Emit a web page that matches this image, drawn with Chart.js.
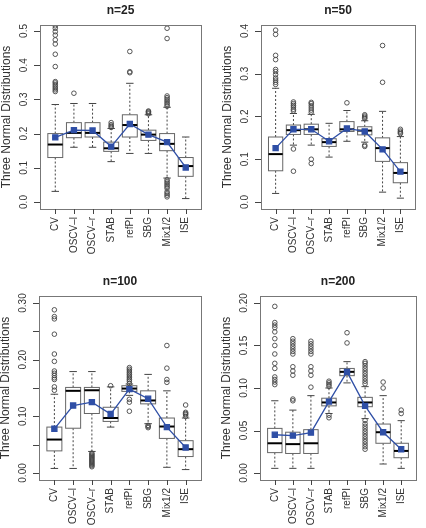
<!doctype html>
<html lang="en">
<head>
<meta charset="utf-8">
<title>Three Normal Distributions</title>
<script src="https://cdn.jsdelivr.net/npm/chart.js@4.4.1/dist/chart.umd.min.js"></script>
<style>
  body { margin: 0; background: #fff; }
  .grid { position: relative; width: 426px; height: 528px; background: #fff; }
  .grid canvas { position: absolute; }
</style>
</head>
<body>
<div class="grid">
  <canvas id="c25" width="213" height="264" style="left:0;top:0"></canvas>
  <canvas id="c50" width="213" height="264" style="left:213px;top:0"></canvas>
  <canvas id="c100" width="213" height="264" style="left:0;top:264px"></canvas>
  <canvas id="c200" width="213" height="264" style="left:213px;top:264px"></canvas>
</div>
<script>
    // categories shared by the four panels
    const categories = ['CV', 'OSCV\u2013l', 'OSCV\u2013r', 'STAB', 'refPI', 'SBG', 'Mix1/2', 'ISE'];
    const yTitle = 'Three Normal Distributions';

    // n=25
    const lo25   = [0.031, 0.160, 0.160, 0.118, 0.142, 0.142, 0.070, 0.010];
    const q1_25  = [0.130, 0.188, 0.190, 0.148, 0.190, 0.180, 0.150, 0.075];
    const med25  = [0.168, 0.202, 0.202, 0.157, 0.225, 0.197, 0.170, 0.105];
    const q3_25  = [0.200, 0.232, 0.232, 0.175, 0.255, 0.210, 0.200, 0.130];
    const hi25   = [0.285, 0.288, 0.288, 0.215, 0.347, 0.255, 0.277, 0.190];
    const mean25 = [0.189, 0.210, 0.209, 0.162, 0.228, 0.197, 0.175, 0.101];
    const out25 = [
        [0.323, 0.328, 0.333, 0.338, 0.343, 0.348, 0.352, 0.396, 0.432, 0.462, 0.474, 0.488, 0.498, 0.508, 0.515],
        [0.318],
        [],
        [0.218, 0.222, 0.226, 0.232],
        [0.378, 0.381, 0.440],
        [0.258, 0.261, 0.264, 0.266],
        [0.015, 0.020, 0.025, 0.030, 0.040, 0.045, 0.050, 0.055, 0.060, 0.065,
         0.280, 0.285, 0.290, 0.295, 0.300, 0.305, 0.310, 0.478, 0.508],
        []
    ];
    const ticks25 = [0, 0.1, 0.2, 0.3, 0.4, 0.5];
    const tickLabels25 = ['0.0', '0.1', '0.2', '0.3', '0.4', '0.5'];

    // n=50
    const lo50   = [0.020, 0.133, 0.133, 0.105, 0.142, 0.140, 0.023, 0.009];
    const q1_50  = [0.073, 0.158, 0.158, 0.130, 0.165, 0.157, 0.095, 0.045];
    const med50  = [0.112, 0.168, 0.170, 0.140, 0.170, 0.167, 0.126, 0.068];
    const q3_50  = [0.152, 0.180, 0.182, 0.148, 0.188, 0.176, 0.150, 0.092];
    const hi50   = [0.266, 0.207, 0.205, 0.184, 0.214, 0.190, 0.212, 0.153];
    const mean50 = [0.126, 0.170, 0.170, 0.142, 0.172, 0.165, 0.123, 0.071];
    const out50 = [
        [0.275, 0.280, 0.285, 0.290, 0.298, 0.305, 0.310, 0.333, 0.343, 0.392, 0.402],
        [0.072, 0.124, 0.213, 0.217, 0.222, 0.226, 0.230, 0.234],
        [0.090, 0.100, 0.210, 0.215, 0.220, 0.225, 0.230, 0.233],
        [],
        [0.232],
        [0.130, 0.133, 0.195, 0.198, 0.201, 0.204],
        [0.280, 0.366],
        [0.160, 0.163, 0.166, 0.170]
    ];
    const ticks50 = [0, 0.1, 0.2, 0.3, 0.4];
    const tickLabels50 = ['0.0', '0.1', '0.2', '0.3', '0.4'];

    // n=100
    const lo100   = [0.008, 0.008, 0.038, 0.081, 0.137, 0.087, 0.010, 0.006];
    const q1_100  = [0.039, 0.079, 0.105, 0.091, 0.144, 0.122, 0.061, 0.029];
    const med100  = [0.059, 0.145, 0.146, 0.097, 0.149, 0.128, 0.082, 0.042];
    const q3_100  = [0.081, 0.151, 0.151, 0.116, 0.154, 0.145, 0.097, 0.057];
    const hi100   = [0.139, 0.179, 0.179, 0.152, 0.157, 0.174, 0.145, 0.097];
    const mean100 = [0.078, 0.119, 0.125, 0.104, 0.148, 0.131, 0.081, 0.045];
    const out100 = [
        [0.146, 0.152, 0.165, 0.168, 0.172, 0.176, 0.180, 0.197, 0.210, 0.245, 0.272, 0.276, 0.288],
        [],
        [0.011, 0.013, 0.015, 0.017, 0.019, 0.021, 0.023, 0.025, 0.027, 0.029, 0.031, 0.033, 0.035],
        [0.154],
        [0.109, 0.125, 0.130, 0.158, 0.162, 0.165, 0.168, 0.171, 0.174, 0.177, 0.180, 0.183, 0.186],
        [0.080, 0.082, 0.084],
        [0.160, 0.165, 0.185, 0.225],
        [0.100, 0.103, 0.105, 0.107, 0.120]
    ];
    const ticks100 = [0, 0.05, 0.1, 0.15, 0.2, 0.25, 0.3];
    const tickLabels100 = ['0.00', '', '0.10', '', '0.20', '', '0.30'];

    // n=200
    const lo200   = [0.0055, 0.0055, 0.0055, 0.070, 0.106, 0.064, 0.0106, 0.0055];
    const q1_200  = [0.024, 0.023, 0.023, 0.079, 0.1145, 0.078, 0.035, 0.018];
    const med200  = [0.035, 0.034, 0.035, 0.083, 0.119, 0.083, 0.048, 0.026];
    const q3_200  = [0.0525, 0.048, 0.051, 0.088, 0.123, 0.089, 0.0576, 0.035];
    const hi200   = [0.085, 0.074, 0.091, 0.100, 0.131, 0.1016, 0.091, 0.0616];
    const mean200 = [0.045, 0.044, 0.0475, 0.084, 0.119, 0.079, 0.048, 0.028];
    const out200 = [
        [0.104, 0.107, 0.110, 0.113, 0.123, 0.129, 0.140, 0.150, 0.158, 0.166, 0.171, 0.174, 0.177, 0.196],
        [0.085, 0.087, 0.115, 0.120, 0.125, 0.140, 0.143, 0.146, 0.149, 0.152, 0.155, 0.158],
        [0.101, 0.115, 0.120, 0.125, 0.140, 0.143, 0.146, 0.149, 0.152, 0.155],
        [0.065, 0.068, 0.102, 0.104, 0.106, 0.108],
        [0.153, 0.165],
        [0.028, 0.031, 0.034, 0.037, 0.040, 0.043, 0.046, 0.049, 0.052, 0.055, 0.058, 0.062,
         0.105, 0.108, 0.111, 0.114, 0.117, 0.120, 0.123, 0.126, 0.129, 0.131],
        [0.100, 0.107],
        [0.070, 0.074]
    ];
    const ticks200 = [0, 0.05, 0.1, 0.15, 0.2];
    const tickLabels200 = ['0.00', '0.05', '0.10', '0.15', '0.20'];

    const meanColor = '#2f4fa6';
    const boxColor = '#666';
    const textColor = '#333';
    const font = '"Liberation Sans", Arial, sans-serif';

    function makeBoxPlugin(panel) {
        return {
            id: 'boxes',
            beforeDatasetsDraw(chart) {
                const ctx = chart.ctx;
                const xs = chart.scales.x, ys = chart.scales.y;
                const unit = xs.getPixelForValue(2) - xs.getPixelForValue(1);
                const halfBox = unit * 0.4;
                const halfCap = unit * 0.2;
                ctx.save();
                for (let i = 0; i < categories.length; i++) {
                    const cx = xs.getPixelForValue(i + 1);
                    const yLo = ys.getPixelForValue(panel.lo[i]);
                    const yQ1 = ys.getPixelForValue(panel.q1[i]);
                    const yMed = ys.getPixelForValue(panel.med[i]);
                    const yQ3 = ys.getPixelForValue(panel.q3[i]);
                    const yHi = ys.getPixelForValue(panel.hi[i]);
                    // whiskers
                    ctx.strokeStyle = '#444';
                    ctx.lineWidth = 1;
                    ctx.setLineDash([2, 2]);
                    ctx.beginPath();
                    ctx.moveTo(cx, yQ1); ctx.lineTo(cx, yLo);
                    ctx.moveTo(cx, yQ3); ctx.lineTo(cx, yHi);
                    ctx.stroke();
                    ctx.setLineDash([]);
                    ctx.beginPath();
                    ctx.moveTo(cx - halfCap, yLo); ctx.lineTo(cx + halfCap, yLo);
                    ctx.moveTo(cx - halfCap, yHi); ctx.lineTo(cx + halfCap, yHi);
                    ctx.stroke();
                    // box
                    ctx.fillStyle = '#fff';
                    ctx.fillRect(cx - halfBox, yQ3, halfBox * 2, yQ1 - yQ3);
                    ctx.strokeStyle = boxColor;
                    ctx.strokeRect(cx - halfBox, yQ3, halfBox * 2, yQ1 - yQ3);
                    // median
                    ctx.strokeStyle = '#000';
                    ctx.lineWidth = 2;
                    ctx.beginPath();
                    ctx.moveTo(cx - halfBox, yMed); ctx.lineTo(cx + halfBox, yMed);
                    ctx.stroke();
                }
                ctx.restore();
            },
            afterDraw(chart) {
                const ctx = chart.ctx;
                const xs = chart.scales.x, ys = chart.scales.y;
                const {left, right, top, bottom} = chart.chartArea;
                ctx.save();
                // frame
                ctx.strokeStyle = '#777';
                ctx.lineWidth = 1;
                ctx.strokeRect(Math.round(left) + 0.5, Math.round(top) + 0.5,
                    Math.round(right - left), Math.round(bottom - top));
                ctx.strokeStyle = '#444';
                ctx.fillStyle = textColor;
                // y axis
                ctx.font = '10px ' + font;
                ctx.beginPath();
                panel.ticks.forEach(function (v) {
                    const py = Math.round(ys.getPixelForValue(v)) + 0.5;
                    ctx.moveTo(left - 6, py); ctx.lineTo(left, py);
                });
                ctx.stroke();
                panel.ticks.forEach(function (v, k) {
                    const py = ys.getPixelForValue(v);
                    ctx.save();
                    ctx.translate(left - 16, py);
                    ctx.rotate(-Math.PI / 2);
                    ctx.textAlign = 'center';
                    ctx.textBaseline = 'middle';
                    ctx.fillText(panel.tickLabels[k], 0, 0);
                    ctx.restore();
                });
                // x axis
                ctx.beginPath();
                categories.forEach(function (c, i) {
                    const px = Math.round(xs.getPixelForValue(i + 1)) + 0.5;
                    ctx.moveTo(px, bottom); ctx.lineTo(px, bottom + 5);
                });
                ctx.stroke();
                categories.forEach(function (c, i) {
                    const px = xs.getPixelForValue(i + 1);
                    ctx.save();
                    ctx.translate(px, bottom + 8);
                    ctx.rotate(-Math.PI / 2);
                    ctx.textAlign = 'right';
                    ctx.textBaseline = 'middle';
                    ctx.fillText(c, 0, 0);
                    ctx.restore();
                });
                // axis title
                ctx.save();
                ctx.font = '12px ' + font;
                ctx.translate(left - 33, (top + bottom) / 2);
                ctx.rotate(-Math.PI / 2);
                ctx.textAlign = 'center';
                ctx.textBaseline = 'middle';
                ctx.fillText(yTitle, 0, 0);
                ctx.restore();
                // panel title
                ctx.font = 'bold 12px ' + font;
                ctx.fillStyle = '#222';
                ctx.textAlign = 'center';
                ctx.textBaseline = 'middle';
                ctx.fillText(panel.title, (left + right) / 2, top - 14);
                ctx.restore();
            }
        };
    }

    function drawPanel(canvas, panel) {
        const outliers = [];
        panel.out.forEach(function (list, i) {
            list.forEach(function (v) {
                outliers.push({x: i + 1, y: v});
            });
        });
        const means = panel.mean.map(function (v, i) {
            return {x: i + 1, y: v};
        });
        return new Chart(document.getElementById(canvas), {
            type: 'scatter',
            data: {
                datasets: [{
                    label: 'mean',
                    data: means,
                    showLine: true,
                    borderColor: meanColor,
                    backgroundColor: meanColor,
                    borderWidth: 1.3,
                    pointStyle: 'rect',
                    pointRadius: 3.6,
                    order: 0
                }, {
                    label: 'outliers',
                    data: outliers,
                    pointStyle: 'circle',
                    pointRadius: 2.3,
                    borderColor: '#444',
                    backgroundColor: 'rgba(0,0,0,0)',
                    borderWidth: 0.9,
                    order: 1
                }]
            },
            options: {
                responsive: false,
                animation: false,
                layout: {padding: panel.pad},
                scales: {
                    x: {type: 'linear', min: 0.18, max: 8.82, display: false},
                    y: {type: 'linear', min: panel.yMin, max: panel.yMax, display: false}
                },
                plugins: {
                    legend: {display: false},
                    tooltip: {enabled: false}
                }
            },
            plugins: [makeBoxPlugin(panel)]
        });
    }

    drawPanel('c25', {
        title: 'n=25', lo: lo25, q1: q1_25, med: med25, q3: q3_25, hi: hi25, mean: mean25, out: out25,
        ticks: ticks25, tickLabels: tickLabels25, yMin: -0.0205, yMax: 0.5175,
        pad: {left: 40, right: 12, top: 25, bottom: 55}
    });
    drawPanel('c50', {
        title: 'n=50', lo: lo50, q1: q1_50, med: med50, q3: q3_50, hi: hi50, mean: mean50, out: out50,
        ticks: ticks50, tickLabels: tickLabels50, yMin: -0.0164, yMax: 0.414,
        pad: {left: 48, right: 11, top: 25, bottom: 55}
    });
    drawPanel('c100', {
        title: 'n=100', lo: lo100, q1: q1_100, med: med100, q3: q3_100, hi: hi100, mean: mean100, out: out100,
        ticks: ticks100, tickLabels: tickLabels100, yMin: -0.0124, yMax: 0.3124,
        pad: {left: 39, right: 12, top: 32, bottom: 48}
    });
    drawPanel('c200', {
        title: 'n=200', lo: lo200, q1: q1_200, med: med200, q3: q3_200, hi: hi200, mean: mean200, out: out200,
        ticks: ticks200, tickLabels: tickLabels200, yMin: -0.0082, yMax: 0.2082,
        pad: {left: 47, right: 10, top: 32, bottom: 48}
    });
</script>
</body>
</html>
